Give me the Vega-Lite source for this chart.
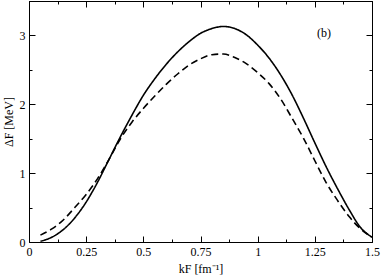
{
  "$schema": "https://vega.github.io/schema/vega-lite/v6.json",
  "width": 343,
  "height": 241,
  "autosize": {"type": "none"},
  "padding": {"left": 29, "top": 1, "right": 10, "bottom": 37},
  "config": {
    "view": {"stroke": "black", "strokeWidth": 1},
    "axis": {
      "labelFont": "Liberation Serif",
      "labelFontSize": 12,
      "labelColor": "black",
      "titleFont": "Liberation Serif",
      "titleFontSize": 12,
      "titleFontWeight": "normal",
      "titleColor": "black",
      "domainColor": "black",
      "tickColor": "black",
      "grid": false
    }
  },
  "layer": [
    {
      "data": {
        "values": [
          {"kF": 0.05, "D": 0.01, "s": "a"},
          {"kF": 0.1, "D": 0.07, "s": "a"},
          {"kF": 0.15, "D": 0.18, "s": "a"},
          {"kF": 0.2, "D": 0.35, "s": "a"},
          {"kF": 0.25, "D": 0.58, "s": "a"},
          {"kF": 0.3, "D": 0.87, "s": "a"},
          {"kF": 0.35, "D": 1.2, "s": "a"},
          {"kF": 0.4, "D": 1.53, "s": "a"},
          {"kF": 0.45, "D": 1.84, "s": "a"},
          {"kF": 0.5, "D": 2.13, "s": "a"},
          {"kF": 0.55, "D": 2.37, "s": "a"},
          {"kF": 0.6, "D": 2.58, "s": "a"},
          {"kF": 0.65, "D": 2.76, "s": "a"},
          {"kF": 0.7, "D": 2.91, "s": "a"},
          {"kF": 0.75, "D": 3.03, "s": "a"},
          {"kF": 0.8, "D": 3.1, "s": "a"},
          {"kF": 0.85, "D": 3.13, "s": "a"},
          {"kF": 0.9, "D": 3.1, "s": "a"},
          {"kF": 0.95, "D": 3.01, "s": "a"},
          {"kF": 1.0, "D": 2.86, "s": "a"},
          {"kF": 1.05, "D": 2.67, "s": "a"},
          {"kF": 1.1, "D": 2.43, "s": "a"},
          {"kF": 1.15, "D": 2.14, "s": "a"},
          {"kF": 1.2, "D": 1.8, "s": "a"},
          {"kF": 1.25, "D": 1.44, "s": "a"},
          {"kF": 1.3, "D": 1.09, "s": "a"},
          {"kF": 1.35, "D": 0.77, "s": "a"},
          {"kF": 1.4, "D": 0.47, "s": "a"},
          {"kF": 1.45, "D": 0.21, "s": "a"},
          {"kF": 1.5, "D": 0.07, "s": "a"},
          {"kF": 0.05, "D": 0.1, "s": "b"},
          {"kF": 0.1, "D": 0.19, "s": "b"},
          {"kF": 0.15, "D": 0.32, "s": "b"},
          {"kF": 0.2, "D": 0.5, "s": "b"},
          {"kF": 0.25, "D": 0.69, "s": "b"},
          {"kF": 0.3, "D": 0.92, "s": "b"},
          {"kF": 0.35, "D": 1.2, "s": "b"},
          {"kF": 0.4, "D": 1.5, "s": "b"},
          {"kF": 0.45, "D": 1.74, "s": "b"},
          {"kF": 0.5, "D": 1.94, "s": "b"},
          {"kF": 0.55, "D": 2.12, "s": "b"},
          {"kF": 0.6, "D": 2.29, "s": "b"},
          {"kF": 0.65, "D": 2.44, "s": "b"},
          {"kF": 0.7, "D": 2.57, "s": "b"},
          {"kF": 0.75, "D": 2.66, "s": "b"},
          {"kF": 0.8, "D": 2.72, "s": "b"},
          {"kF": 0.85, "D": 2.73, "s": "b"},
          {"kF": 0.9, "D": 2.68, "s": "b"},
          {"kF": 0.95, "D": 2.59, "s": "b"},
          {"kF": 1.0, "D": 2.46, "s": "b"},
          {"kF": 1.05, "D": 2.3, "s": "b"},
          {"kF": 1.1, "D": 2.08, "s": "b"},
          {"kF": 1.15, "D": 1.8, "s": "b"},
          {"kF": 1.2, "D": 1.51, "s": "b"},
          {"kF": 1.25, "D": 1.18, "s": "b"},
          {"kF": 1.3, "D": 0.86, "s": "b"},
          {"kF": 1.35, "D": 0.6, "s": "b"},
          {"kF": 1.4, "D": 0.37, "s": "b"},
          {"kF": 1.45, "D": 0.19, "s": "b"},
          {"kF": 1.5, "D": 0.07, "s": "b"}
        ]
      },
      "mark": {"type": "line", "color": "black", "strokeWidth": 1.6, "interpolate": "monotone"},
      "encoding": {
        "x": {
          "field": "kF", "type": "quantitative",
          "scale": {"domain": [0, 1.5], "nice": false},
          "axis": {
            "orient": "bottom",
            "values": [0, 0.125, 0.25, 0.375, 0.5, 0.625, 0.75, 0.875, 1, 1.125, 1.25, 1.375, 1.5],
            "labelExpr": "(datum.value*4) % 1 != 0 ? '' : format(datum.value, '~g')",
            "tickSize": {"condition": {"test": "(datum.value*4) % 1 != 0", "value": -3}, "value": -6},
            "labelPadding": 10,
            "labelFlush": false,
            "labelOverlap": false,
            "title": "kF [fm⁻¹]",
            "titlePadding": 3
          }
        },
        "y": {
          "field": "D", "type": "quantitative",
          "scale": {"domain": [0, 3.5], "nice": false},
          "axis": {
            "orient": "left",
            "values": [0, 0.5, 1, 1.5, 2, 2.5, 3, 3.5],
            "labelExpr": "(datum.value*2) % 2 != 0 ? '' : format(datum.value, '~g')",
            "tickSize": {"condition": {"test": "(datum.value*2) % 2 != 0", "value": -3}, "value": -6},
            "labelPadding": 10,
            "labelFlush": false,
            "labelOverlap": false,
            "title": "ΔF [MeV]",
            "titlePadding": 4
          }
        },
        "strokeDash": {
          "field": "s", "type": "nominal",
          "scale": {"domain": ["a", "b"], "range": [[1, 0], [7, 4]]},
          "legend": null
        }
      }
    },
    {
      "data": {"values": [{"kF": 1.29, "D": 3.04, "label": "(b)"}]},
      "mark": {"type": "text", "font": "Liberation Serif", "fontSize": 12, "color": "black"},
      "encoding": {
        "x": {
          "field": "kF", "type": "quantitative",
          "axis": {
            "orient": "top",
            "values": [0, 0.125, 0.25, 0.375, 0.5, 0.625, 0.75, 0.875, 1, 1.125, 1.25, 1.375, 1.5],
            "labels": false,
            "title": null,
            "tickSize": {"condition": {"test": "(datum.value*4) % 1 != 0", "value": -3}, "value": -6}
          }
        },
        "y": {
          "field": "D", "type": "quantitative",
          "axis": {
            "orient": "right",
            "values": [0, 0.5, 1, 1.5, 2, 2.5, 3, 3.5],
            "labels": false,
            "title": null,
            "tickSize": {"condition": {"test": "(datum.value*2) % 2 != 0", "value": -3}, "value": -6}
          }
        },
        "text": {"field": "label"}
      }
    }
  ]
}
